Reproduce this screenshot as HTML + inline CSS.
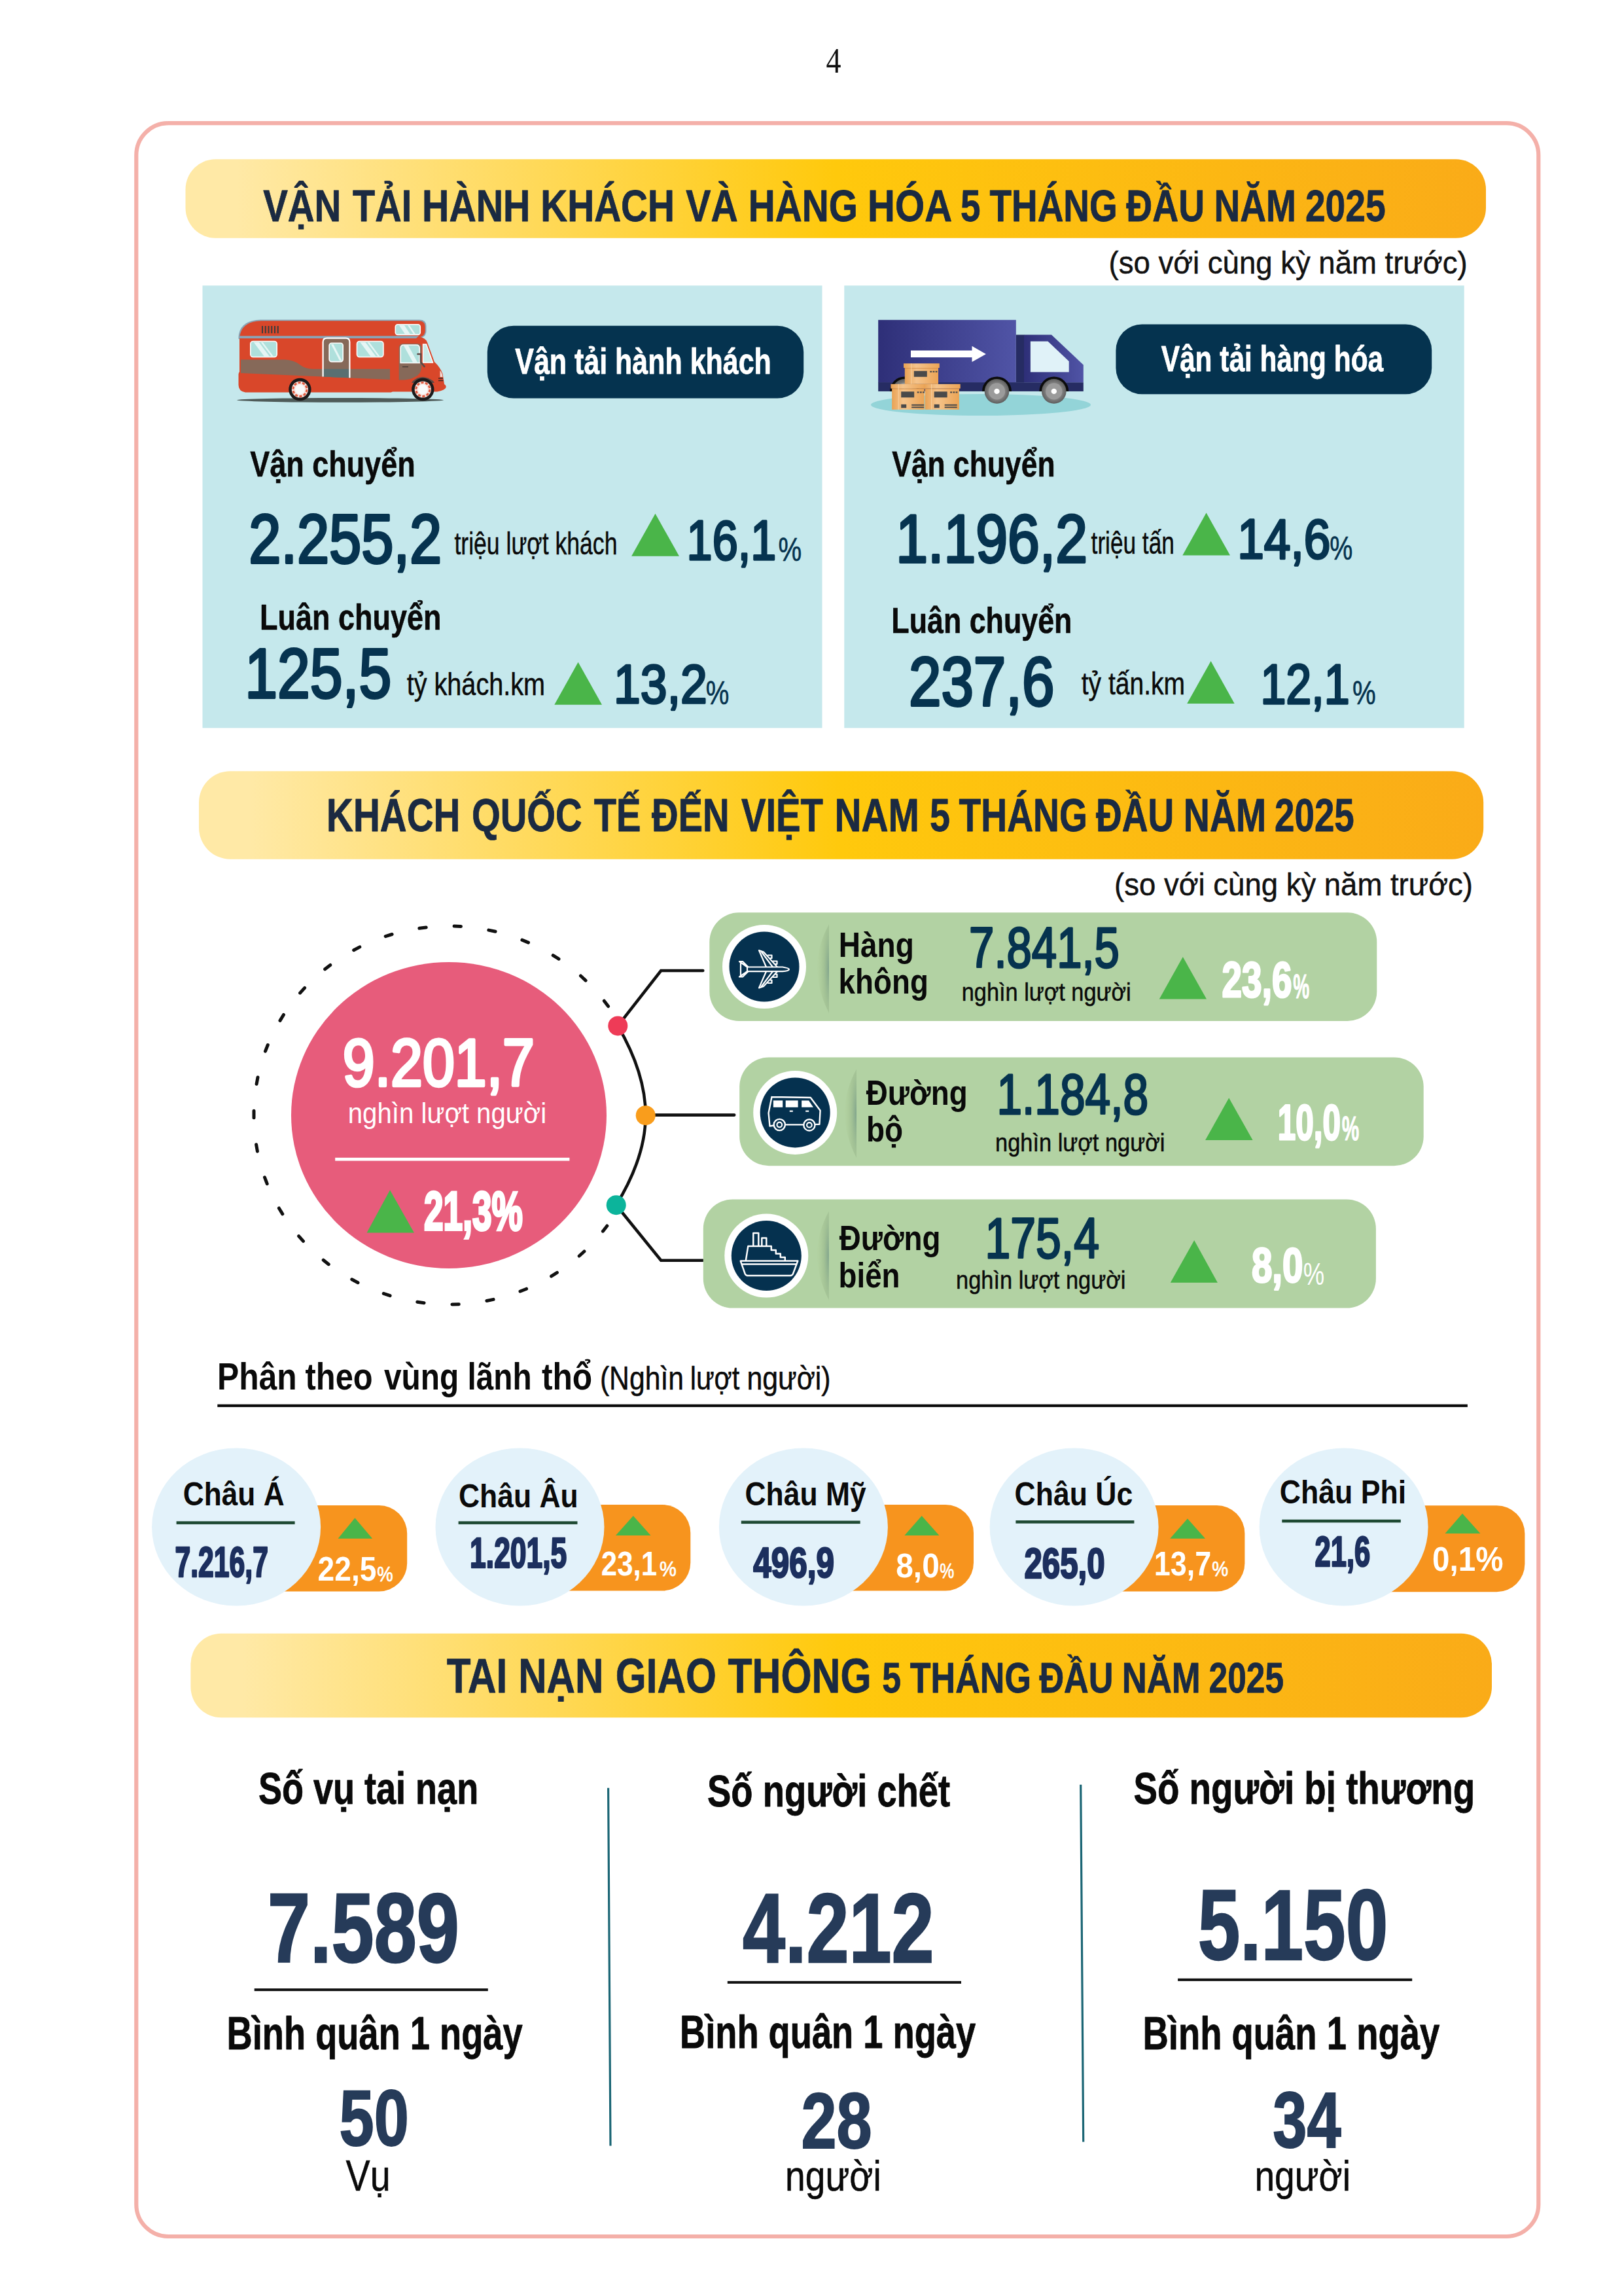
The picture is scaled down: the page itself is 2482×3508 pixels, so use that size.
<!DOCTYPE html>
<html lang="vi"><head><meta charset="utf-8"><title>Infographic 5 tháng đầu năm 2025</title>
<style>html,body{margin:0;padding:0;background:#fff}svg{display:block}</style></head>
<body>
<svg width="2482" height="3508" viewBox="0 0 2482 3508" font-family='"Liberation Sans", sans-serif'>
<defs>
<linearGradient id="gb" x1="0" y1="0" x2="1" y2="0">
<stop offset="0" stop-color="#ffe9a6"/><stop offset="0.04" stop-color="#ffe9a6"/><stop offset="0.50" stop-color="#ffc90c"/><stop offset="1" stop-color="#faab18"/>
</linearGradient>
<linearGradient id="gt" x1="0" y1="0" x2="1" y2="0"><stop offset="0" stop-color="#2e2f78"/><stop offset="1" stop-color="#5054a6"/></linearGradient>
<linearGradient id="gbox" x1="0" y1="0" x2="1" y2="0"><stop offset="0" stop-color="#e9a254"/><stop offset="0.35" stop-color="#f5c48c"/><stop offset="1" stop-color="#eca455"/></linearGradient>
<radialGradient id="gsep" cx="1" cy="0.5" r="0.95"><stop offset="0" stop-color="#7b9f8a" stop-opacity="0.9"/><stop offset="0.45" stop-color="#98b78c" stop-opacity="0.6"/><stop offset="1" stop-color="#aac78f" stop-opacity="0.1"/></radialGradient>
<radialGradient id="gwh"><stop offset="0.45" stop-color="#9a9a9a"/><stop offset="0.7" stop-color="#7d7d7d"/><stop offset="1" stop-color="#5e5e5e"/></radialGradient>
</defs>
<rect width="2482" height="3508" fill="#fff"/>
<text x="1262.4" y="111.4" font-size="55" fill="#111" textLength="23.0" lengthAdjust="spacingAndGlyphs" font-family='"Liberation Serif", serif'>4</text>
<rect x="208.3" y="188.2" width="2143" height="3228.8" rx="49" ry="49" fill="none" stroke="#f4b0a9" stroke-width="6.2"/>
<rect x="283.5" y="243.3" width="1987.5" height="120.4" rx="46" fill="url(#gb)"/>
<text y="337.7" font-size="69.3" fill="#1b2a41" font-weight="bold" stroke="#1b2a41" stroke-width="0.8" stroke-linejoin="round"><tspan x="402.2" textLength="119.2" lengthAdjust="spacingAndGlyphs">VẬN</tspan> <tspan x="539.0" textLength="90.2" lengthAdjust="spacingAndGlyphs">TẢI</tspan> <tspan x="645.1" textLength="165.3" lengthAdjust="spacingAndGlyphs">HÀNH</tspan> <tspan x="826.3" textLength="204.7" lengthAdjust="spacingAndGlyphs">KHÁCH</tspan> <tspan x="1048.3" textLength="79.4" lengthAdjust="spacingAndGlyphs">VÀ</tspan> <tspan x="1143.7" textLength="167.1" lengthAdjust="spacingAndGlyphs">HÀNG</tspan> <tspan x="1326.1" textLength="126.8" lengthAdjust="spacingAndGlyphs">HÓA</tspan> <tspan x="1468.1" textLength="30.5" lengthAdjust="spacingAndGlyphs">5</tspan> <tspan x="1512.5" textLength="195.1" lengthAdjust="spacingAndGlyphs">THÁNG</tspan> <tspan x="1721.3" textLength="119.8" lengthAdjust="spacingAndGlyphs">ĐẦU</tspan> <tspan x="1855.6" textLength="125.4" lengthAdjust="spacingAndGlyphs">NĂM</tspan> <tspan x="1994.9" textLength="122.8" lengthAdjust="spacingAndGlyphs">2025</tspan></text>
<text x="1694.6" y="417.7" font-size="48" fill="#111" textLength="548.0" lengthAdjust="spacingAndGlyphs" stroke="#111" stroke-width="0.5" stroke-linejoin="round">(so với cùng kỳ năm trước)</text>
<rect x="309.5" y="436.3" width="947" height="676" fill="#c5e8ec"/>
<rect x="1290.3" y="436.3" width="947.4" height="676" fill="#c5e8ec"/>
<rect x="744.8" y="497.8" width="483.4" height="110.8" rx="40" fill="#05334f"/>
<text x="787.3" y="570.7" font-size="55.5" fill="#fff" font-weight="bold" textLength="391.5" lengthAdjust="spacingAndGlyphs" stroke="#fff" stroke-width="0.8" stroke-linejoin="round">Vận tải hành khách</text>
<rect x="1705.4" y="495.4" width="482.8" height="106.8" rx="40" fill="#05334f"/>
<text x="1774.7" y="566.5" font-size="55.5" fill="#fff" font-weight="bold" textLength="339.5" lengthAdjust="spacingAndGlyphs" stroke="#fff" stroke-width="0.8" stroke-linejoin="round">Vận tải hàng hóa</text>
<text x="382.3" y="727.9" font-size="56.4" fill="#0a0a0a" font-weight="bold" textLength="252.5" lengthAdjust="spacingAndGlyphs" stroke="#0a0a0a" stroke-width="0.6" stroke-linejoin="round">Vận chuyển</text>
<text x="380.3" y="859.8" font-size="105.5" fill="#06334f" textLength="294.8" lengthAdjust="spacingAndGlyphs" stroke="#06334f" stroke-width="4" stroke-linejoin="round">2.255,2</text>
<text x="694.4" y="846.8" font-size="48.5" fill="#0a0a0a" textLength="249.1" lengthAdjust="spacingAndGlyphs" stroke="#0a0a0a" stroke-width="0.5" stroke-linejoin="round">triệu lượt khách</text>
<polygon points="1001.5,784.8 965.1,849.8 1038.0,849.8" fill="#4ab549"/>
<text x="1049.6" y="855.4" font-size="84.8" fill="#06334f" textLength="136.6" lengthAdjust="spacingAndGlyphs" stroke="#06334f" stroke-width="3.4" stroke-linejoin="round">16,1</text>
<text x="1189.4" y="856.5" font-size="50" fill="#06334f" textLength="35.7" lengthAdjust="spacingAndGlyphs" stroke="#06334f" stroke-width="0.6" stroke-linejoin="round">%</text>
<text x="397.1" y="961.6" font-size="56.4" fill="#0a0a0a" font-weight="bold" textLength="277.5" lengthAdjust="spacingAndGlyphs" stroke="#0a0a0a" stroke-width="0.6" stroke-linejoin="round">Luân chuyển</text>
<text x="374.2" y="1065.5" font-size="107.5" fill="#06334f" textLength="224.0" lengthAdjust="spacingAndGlyphs" stroke="#06334f" stroke-width="4" stroke-linejoin="round">125,5</text>
<text x="621.7" y="1061.6" font-size="48.5" fill="#0a0a0a" textLength="211.4" lengthAdjust="spacingAndGlyphs" stroke="#0a0a0a" stroke-width="0.5" stroke-linejoin="round">tỷ khách.km</text>
<polygon points="883.6,1011.7 847.3,1076.7 920.0,1076.7" fill="#4ab549"/>
<text x="938.1" y="1074.4" font-size="84.2" fill="#06334f" textLength="142.7" lengthAdjust="spacingAndGlyphs" stroke="#06334f" stroke-width="3.4" stroke-linejoin="round">13,2</text>
<text x="1078.8" y="1075.6" font-size="50" fill="#06334f" textLength="35.6" lengthAdjust="spacingAndGlyphs" stroke="#06334f" stroke-width="0.6" stroke-linejoin="round">%</text>
<text x="1363.2" y="727.5" font-size="56.4" fill="#0a0a0a" font-weight="bold" textLength="249.4" lengthAdjust="spacingAndGlyphs" stroke="#0a0a0a" stroke-width="0.6" stroke-linejoin="round">Vận chuyển</text>
<text x="1369.2" y="859.0" font-size="104.6" fill="#06334f" textLength="292.8" lengthAdjust="spacingAndGlyphs" stroke="#06334f" stroke-width="4" stroke-linejoin="round">1.196,2</text>
<text x="1667.6" y="845.5" font-size="48.5" fill="#0a0a0a" textLength="127.2" lengthAdjust="spacingAndGlyphs" stroke="#0a0a0a" stroke-width="0.5" stroke-linejoin="round">triệu tấn</text>
<polygon points="1843.6,783.4 1807.3,848.4 1880.0,848.4" fill="#4ab549"/>
<text x="1891.2" y="853.4" font-size="84.6" fill="#06334f" textLength="142.3" lengthAdjust="spacingAndGlyphs" stroke="#06334f" stroke-width="3.4" stroke-linejoin="round">14,6</text>
<text x="2032.2" y="854.5" font-size="50" fill="#06334f" textLength="35.1" lengthAdjust="spacingAndGlyphs" stroke="#06334f" stroke-width="0.6" stroke-linejoin="round">%</text>
<text x="1362.3" y="966.7" font-size="56.4" fill="#0a0a0a" font-weight="bold" textLength="276.1" lengthAdjust="spacingAndGlyphs" stroke="#0a0a0a" stroke-width="0.6" stroke-linejoin="round">Luân chuyển</text>
<text x="1389.0" y="1077.7" font-size="106.5" fill="#06334f" textLength="222.4" lengthAdjust="spacingAndGlyphs" stroke="#06334f" stroke-width="4" stroke-linejoin="round">237,6</text>
<text x="1652.7" y="1060.5" font-size="48.5" fill="#0a0a0a" textLength="158.4" lengthAdjust="spacingAndGlyphs" stroke="#0a0a0a" stroke-width="0.5" stroke-linejoin="round">tỷ tấn.km</text>
<polygon points="1850.6,1010.1 1814.2,1075.1 1886.7,1075.1" fill="#4ab549"/>
<text x="1926.4" y="1075.0" font-size="84.5" fill="#06334f" textLength="136.3" lengthAdjust="spacingAndGlyphs" stroke="#06334f" stroke-width="3.4" stroke-linejoin="round">12,1</text>
<text x="2066.9" y="1076.0" font-size="50" fill="#06334f" textLength="35.7" lengthAdjust="spacingAndGlyphs" stroke="#06334f" stroke-width="0.6" stroke-linejoin="round">%</text>
<g id="bus">
<ellipse cx="520" cy="611.3" rx="158" ry="3.4" fill="#4f5b59"/>
<path d="M364.5,518 V515 Q366,489.5 398,488.5 H641 Q651.5,488.5 651.5,498 V506 Q651,516 640,517 H600 L598,518 Z" fill="#8ba3b4"/>
<path d="M366,517 Q368,491 399,490.3 H640 Q649.7,490.3 649.7,499 V506 Q649,515 639,515.5 H600 L597,517 Z" fill="#d9472a"/>
<path d="M366,516 H600 Q604,514.5 610,514.5 H640 Q650,515.5 653,523 L664,553 Q672,560 676.5,571 L679,587 Q682.5,589 681.5,592 Q680,596 668,598.5 H600 L597.5,599.5 H375 Q364.5,598 364.5,588 V572 Q364.5,570 366,568 Z" fill="#d9472a"/>
<path d="M366,513.2 H640 L636,517 H366 Z" fill="#8ba3b4"/>
<path d="M368,549.5 H436 Q449,550 458,557 Q466,563.5 478,563.7 H596 V580 L368,570 Z" fill="#866959"/>
<path d="M493.6,575.6 V522.5 Q493.6,516.6 499.5,516.6 H528.5 Q534.4,516.6 534.4,522.5 V577.3 Z" fill="#866959"/>
<path d="M493.6,563.7 H534.4 V577.3 L493.6,575.6 Z" fill="#5a6f71"/>
<path d="M493.6,575.6 V522.5 Q493.6,516.6 499.5,516.6 H528.5 Q534.4,516.6 534.4,522.5 V577.3" fill="none" stroke="#fff" stroke-width="2.2"/>
<rect x="503.2" y="524.3" width="21" height="28.3" rx="3.5" fill="#afe0dc" stroke="#fff" stroke-width="1.6"/>
<path d="M506,526 L519,551 H522.5 L509.5,526Z" fill="#e6f6f5"/>
<rect x="382.8" y="521.5" width="40.4" height="24" rx="4" fill="#afe0dc" stroke="#fff" stroke-width="1.6"/>
<path d="M387.8,523 L403.8,544.5 H411.8 L395.8,523 Z M398.8,523 L414.8,544.5 H417.8 L401.8,523Z" fill="#e6f6f5"/>
<rect x="545.5" y="521.5" width="40.4" height="24" rx="4" fill="#afe0dc" stroke="#fff" stroke-width="1.6"/>
<path d="M550.5,523 L566.5,544.5 H574.5 L558.5,523 Z M561.5,523 L577.5,544.5 H580.5 L564.5,523Z" fill="#e6f6f5"/>
<rect x="604.3" y="495.8" width="38" height="15.6" rx="3.5" fill="#afe0dc" stroke="#fff" stroke-width="1.6"/>
<path d="M610,497 L619,510.5 H627 L618,497 Z M623,497 L632,510.5 H635 L626,497Z" fill="#e6f6f5"/>
<path d="M609.7,531 Q610,525 616,525 H638 Q644.3,525 644.3,531 V560 Q644,572 634,576 Q628,579.5 618,580.5 H609.7 Z" fill="#866959"/>
<path d="M612.2,532 Q612.2,527 617,527 H636 Q641.2,527 641.2,532 V554.5 H612.2 Z" fill="#afe0dc" stroke="#fff" stroke-width="1.6"/>
<path d="M617,528 L631,553.5 H638 L624,528Z" fill="#e6f6f5"/>
<path d="M646.5,526 H651.5 L661.5,554 H646.5 Z" fill="#c9ece9" stroke="#fff" stroke-width="1.4"/>
<path d="M638.5,541 H643 V553 L648.5,560" fill="none" stroke="#5b4a45" stroke-width="2.6" stroke-linecap="round"/>
<path d="M615,560.5 H624" stroke="#3d3331" stroke-width="1.2"/>
<rect x="400.00" y="498" width="2" height="11.2" fill="#3c3c3c"/>
<rect x="404.75" y="498" width="2" height="11.2" fill="#3c3c3c"/>
<rect x="409.50" y="498" width="2" height="11.2" fill="#3c3c3c"/>
<rect x="414.25" y="498" width="2" height="11.2" fill="#3c3c3c"/>
<rect x="419.00" y="498" width="2" height="11.2" fill="#3c3c3c"/>
<rect x="423.75" y="498" width="2" height="11.2" fill="#3c3c3c"/>
<path d="M672.5,566 Q676,570 676.5,576 H672.5 Z" fill="#f3d9d2"/>
<path d="M670,578 H677 M670,581.5 H677.5" stroke="#3c2a27" stroke-width="1.5"/>
<path d="M631,582 Q645,570 662,582 L664,585 H629 Z" fill="#5b4a45"/>
<circle cx="458.4" cy="595" r="17.2" fill="#1c1a1a"/>
<circle cx="458.4" cy="595" r="12.6" fill="#f6e4e0"/>
<circle cx="458.4" cy="595" r="10.5" fill="none" stroke="#e05a3f" stroke-width="3" stroke-dasharray="4.2 2.4"/>
<circle cx="458.4" cy="595" r="7.4" fill="#fafafa"/>
<circle cx="646.3" cy="595" r="17.2" fill="#1c1a1a"/>
<circle cx="646.3" cy="595" r="12.6" fill="#f6e4e0"/>
<circle cx="646.3" cy="595" r="10.5" fill="none" stroke="#e05a3f" stroke-width="3" stroke-dasharray="4.2 2.4"/>
<circle cx="646.3" cy="595" r="7.4" fill="#fafafa"/>
</g>
<g id="truck">
<ellipse cx="1499" cy="618.5" rx="168" ry="16.6" fill="#93d4d8"/>
<rect x="1342.2" y="488.8" width="210.6" height="96" fill="url(#gt)"/>
<rect x="1342.2" y="584.2" width="313.6" height="13.7" fill="#262c63"/>
<rect x="1552.8" y="511.5" width="12.4" height="73" fill="#262c63"/>
<path d="M1565,511.5 H1607 L1655.8,557.6 V584.2 H1565 Z" fill="url(#gt)"/>
<path d="M1574.9,521.4 H1601.5 L1633.7,552 V568.6 H1574.9 Z" fill="#e0f2f8"/>
<path d="M1392,535.4 H1485.5 V528.7 L1506.9,540.9 L1485.5,553.1 V546 H1392 Z" fill="#fff"/>
<path d="M1360.0,597.9 A22.5,22.5 0 0 1 1405.0,597.9 Z" fill="#0c0c0c"/>
<circle cx="1382.5" cy="597.9" r="18.8" fill="url(#gwh)"/>
<circle cx="1382.5" cy="597.9" r="12.6" fill="#9b9b9b"/>
<circle cx="1382.5" cy="597.9" r="4.2" fill="#fff"/>
<path d="M1501.0,597.9 A22.5,22.5 0 0 1 1546.0,597.9 Z" fill="#0c0c0c"/>
<circle cx="1523.5" cy="597.9" r="18.8" fill="url(#gwh)"/>
<circle cx="1523.5" cy="597.9" r="12.6" fill="#9b9b9b"/>
<circle cx="1523.5" cy="597.9" r="4.2" fill="#fff"/>
<path d="M1588.3,597.9 A22.5,22.5 0 0 1 1633.3,597.9 Z" fill="#0c0c0c"/>
<circle cx="1610.8" cy="597.9" r="18.8" fill="url(#gwh)"/>
<circle cx="1610.8" cy="597.9" r="12.6" fill="#9b9b9b"/>
<circle cx="1610.8" cy="597.9" r="4.2" fill="#fff"/>
<rect x="1381.0" y="555.3" width="54.8" height="6.8" fill="url(#gbox)"/>
<rect x="1382.8" y="562.1" width="51.2" height="24.7" fill="url(#gbox)"/>
<rect x="1382.8" y="562.1" width="51.2" height="1.2" fill="#d98f45" opacity="0.7"/>
<rect x="1392.3" y="555.3" width="1" height="31.5" fill="#fbd9ad" opacity="0.8"/>
<rect x="1396.8" y="566.8" width="20" height="9" fill="#4a4a4a"/>
<rect x="1421.3" y="566.8" width="2.8" height="2.2" fill="#4a4a4a"/>
<rect x="1425.5" y="566.8" width="2.8" height="2.2" fill="#4a4a4a"/>
<rect x="1429.7" y="566.8" width="2.8" height="2.2" fill="#4a4a4a"/>
<rect x="1361.4" y="586.8" width="53.1" height="6.8" fill="url(#gbox)"/>
<rect x="1363.2" y="593.6" width="49.5" height="32.2" fill="url(#gbox)"/>
<rect x="1363.2" y="593.6" width="49.5" height="1.2" fill="#d98f45" opacity="0.7"/>
<rect x="1372.7" y="586.8" width="1" height="39.0" fill="#fbd9ad" opacity="0.8"/>
<rect x="1377.2" y="598.3" width="20" height="9" fill="#4a4a4a"/>
<rect x="1401.7" y="598.3" width="2.8" height="2.2" fill="#4a4a4a"/>
<rect x="1405.9" y="598.3" width="2.8" height="2.2" fill="#4a4a4a"/>
<rect x="1410.1" y="598.3" width="2.8" height="2.2" fill="#4a4a4a"/>
<rect x="1377.2" y="617.8" width="8" height="5.5" fill="#4a4a4a"/>
<rect x="1393.2" y="617.8" width="19" height="2" fill="#4a4a4a"/>
<rect x="1393.2" y="621.3" width="19" height="2" fill="#4a4a4a"/>
<rect x="1411.9" y="586.8" width="55.8" height="6.8" fill="url(#gbox)"/>
<rect x="1413.7" y="593.6" width="52.2" height="32.2" fill="url(#gbox)"/>
<rect x="1413.7" y="593.6" width="52.2" height="1.2" fill="#d98f45" opacity="0.7"/>
<rect x="1423.2" y="586.8" width="1" height="39.0" fill="#fbd9ad" opacity="0.8"/>
<rect x="1427.7" y="598.3" width="20" height="9" fill="#4a4a4a"/>
<rect x="1452.2" y="598.3" width="2.8" height="2.2" fill="#4a4a4a"/>
<rect x="1456.4" y="598.3" width="2.8" height="2.2" fill="#4a4a4a"/>
<rect x="1460.6" y="598.3" width="2.8" height="2.2" fill="#4a4a4a"/>
<rect x="1427.7" y="617.8" width="8" height="5.5" fill="#4a4a4a"/>
<rect x="1443.7" y="617.8" width="19" height="2" fill="#4a4a4a"/>
<rect x="1443.7" y="621.3" width="19" height="2" fill="#4a4a4a"/>
</g>
<rect x="304" y="1178.2" width="1963.2" height="134.5" rx="48" fill="url(#gb)"/>
<text y="1269.6" font-size="69.5" fill="#1b2a41" font-weight="bold" stroke="#1b2a41" stroke-width="0.8" stroke-linejoin="round"><tspan x="499.0" textLength="204.4" lengthAdjust="spacingAndGlyphs">KHÁCH</tspan> <tspan x="720.9" textLength="168.7" lengthAdjust="spacingAndGlyphs">QUỐC</tspan> <tspan x="907.7" textLength="71.8" lengthAdjust="spacingAndGlyphs">TẾ</tspan> <tspan x="995.9" textLength="118.9" lengthAdjust="spacingAndGlyphs">ĐẾN</tspan> <tspan x="1132.9" textLength="125.1" lengthAdjust="spacingAndGlyphs">VIỆT</tspan> <tspan x="1275.4" textLength="129.5" lengthAdjust="spacingAndGlyphs">NAM</tspan> <tspan x="1421.0" textLength="31.0" lengthAdjust="spacingAndGlyphs">5</tspan> <tspan x="1465.6" textLength="196.3" lengthAdjust="spacingAndGlyphs">THÁNG</tspan> <tspan x="1675.0" textLength="119.3" lengthAdjust="spacingAndGlyphs">ĐẦU</tspan> <tspan x="1808.8" textLength="126.5" lengthAdjust="spacingAndGlyphs">NĂM</tspan> <tspan x="1948.1" textLength="121.7" lengthAdjust="spacingAndGlyphs">2025</tspan></text>
<text x="1703.1" y="1367.6" font-size="48" fill="#111" textLength="547.9" lengthAdjust="spacingAndGlyphs" stroke="#111" stroke-width="0.5" stroke-linejoin="round">(so với cùng kỳ năm trước)</text>
<ellipse cx="686" cy="1704" rx="241" ry="234" fill="#e75c7b"/>
<path d="M929.6,1537.5 L923.3,1529.2 M895.1,1498.1 L887.5,1491.0 M854.0,1465.2 L845.2,1459.7 M807.5,1440.1 L797.9,1436.1 M757.1,1423.3 L746.9,1421.1 M704.5,1415.5 L694.1,1415.1 M651.2,1416.9 L640.9,1418.3 M599.1,1427.5 L589.2,1430.6 M549.8,1446.9 L540.6,1451.7 M504.8,1474.5 L496.6,1480.8 M465.6,1509.4 L458.6,1517.1 M433.4,1550.5 L428.0,1559.4 M409.3,1596.5 L405.5,1606.2 M394.0,1646.0 L392.1,1656.2 M388.0,1697.3 L388.0,1707.7 M391.6,1748.8 L393.4,1759.1 M404.5,1798.9 L408.2,1808.7 M426.4,1846.0 L431.8,1854.9 M456.6,1888.6 L463.5,1896.3 M494.2,1925.2 L502.3,1931.7 M537.8,1954.8 L547.0,1959.7 M586.3,1976.4 L596.1,1979.6 M637.8,1989.2 L648.1,1990.7 M690.9,1993.0 L701.3,1992.7 M743.9,1987.5 L754.1,1985.4 M795.0,1973.0 L804.6,1969.2 M842.6,1949.9 L851.4,1944.4 M885.2,1919.0 L892.9,1912.0 M921.4,1881.2 L927.8,1873.0" fill="none" stroke="#111" stroke-width="5" stroke-linecap="round"/>
<path d="M944.3,1567.4 Q986.7,1640 986.7,1704 Q986.7,1768 941.7,1841.2" fill="none" stroke="#111" stroke-width="4.6"/>
<path d="M944.3,1567.4 L1010.2,1483 H1074.3 M986.7,1703.6 H1122.2 M941.7,1841.2 L1010.2,1925.8 H1074.3" fill="none" stroke="#111" stroke-width="4.6" stroke-linejoin="miter" stroke-linecap="round"/>
<circle cx="944.3" cy="1567.4" r="15" fill="#ee3b57"/>
<circle cx="986.7" cy="1704.2" r="15" fill="#f99d1c"/>
<circle cx="941.7" cy="1841.2" r="15" fill="#0cb49b"/>
<text x="523.8" y="1658.8" font-size="102.6" fill="#fff" textLength="293.1" lengthAdjust="spacingAndGlyphs" stroke="#fff" stroke-width="4.6" stroke-linejoin="round">9.201,7</text>
<text x="531.7" y="1715.8" font-size="45" fill="#fff" textLength="303.4" lengthAdjust="spacingAndGlyphs">nghìn lượt người</text>
<rect x="512.2" y="1768.8" width="358.2" height="4.8" fill="#fff"/>
<polygon points="596.0,1818.3 560.6,1883.4 632.9,1883.4" fill="#4ab549"/>
<text x="648.0" y="1879.1" font-size="84.1" fill="#fff" font-weight="bold" textLength="150.8" lengthAdjust="spacingAndGlyphs" stroke="#fff" stroke-width="4" stroke-linejoin="miter">21,3%</text>
<rect x="1084.3" y="1394.2" width="1020" height="165.8" rx="45" fill="#b2d2a3"/>
<path d="M1267,1412.2 V1548.0 Q1231,1477.1000000000001 1267,1412.2 Z" fill="url(#gsep)"/>
<circle cx="1168" cy="1477" r="64" fill="#fff"/>
<circle cx="1168" cy="1477" r="53.5" fill="#05314f"/>
<rect x="1130.2" y="1615.4" width="1045.5" height="165.8" rx="45" fill="#b2d2a3"/>
<path d="M1309,1633.4 V1769.2 Q1273,1698.3000000000002 1309,1633.4 Z" fill="url(#gsep)"/>
<circle cx="1215.2" cy="1699.9" r="64" fill="#fff"/>
<circle cx="1215.2" cy="1699.9" r="53.5" fill="#05314f"/>
<rect x="1074.8" y="1832.4" width="1028.1" height="166.2" rx="45" fill="#b2d2a3"/>
<path d="M1266.9,1850.4 V1986.6000000000001 Q1230.9,1915.5 1266.9,1850.4 Z" fill="url(#gsep)"/>
<circle cx="1171.3" cy="1918.6" r="64" fill="#fff"/>
<circle cx="1171.3" cy="1918.6" r="53.5" fill="#05314f"/>
<g transform="translate(1168,1477)" fill="none" stroke="#fff" stroke-width="2.2" stroke-linejoin="round">
<path d="M-26,0.5 H28 Q37.5,2 38,4 Q37.5,6.5 28,7.2 H-26 Z"/>
<path d="M-26,0.5 L-38,-8 H-33 L-24.5,0.5 M-26,7.2 L-38,15.5 H-33 L-24.5,7.2 M-36,-8 V15.5"/>
<path d="M3,0.5 L-8,-25 L-1,-22.5 L20,0.5 M-4.5,-23 L13,0.5"/>
<path d="M3,7.2 L-8,32.5 L-1,30 L20,7.2 M-4.5,30.5 L13,7.2"/>
<path d="M5,-17.5 H11.5 V-13 H9 M13,-8.5 H19.5 V-4 H17"/>
<path d="M5,25 H11.5 V20.5 H9 M13,16 H19.5 V11.5 H17"/>
</g>
<g transform="translate(1215.2,1699.9)" fill="none" stroke="#fff" stroke-width="2.4" stroke-linejoin="round" stroke-linecap="round">
<path d="M-35.7,-23.9 L23.6,-22.9 L38.4,-3.2 L37.2,18 H31.5 M12,18.5 H-14.2 M-33.5,19.8 L-38.7,20.6 L-40.6,0.7 L-35.7,-23.9"/>
<circle cx="-23.9" cy="18.6" r="8.6"/><circle cx="-23.9" cy="18.6" r="3.8" stroke-width="2.2"/>
<circle cx="21.7" cy="19" r="8.6"/><circle cx="21.7" cy="19" r="3.8" stroke-width="2.2"/>
<g fill="#fff" stroke="none"><rect x="-33.3" y="-18.5" width="14.3" height="10.4"/><rect x="-14.5" y="-18.5" width="18.9" height="10.4"/><path d="M9.9,-18.5 H20.9 L27.8,-8.1 H9.9Z"/><rect x="-8.4" y="-3.3" width="5" height="2.2"/><rect x="16" y="-3.3" width="5" height="2.2"/></g>
</g>
<g transform="translate(1171.3,1918.6)" fill="none" stroke="#fff" stroke-width="2.5" stroke-linejoin="round">
<path d="M-39.5,8 H48 L40.5,28 Q39,30.5 36,30.5 H-28 Q-31,30.5 -32.5,28 Z M-38,13 H46.5"/>
<path d="M-31.5,7.5 L-28,-14.5 H7.5 V-8.5 H14.5 V-3 H21.5 V2.5 H28.5 V7.5"/>
<path d="M-20,-14.5 V-34.5 H-12 V-14.5 M-7,-14.5 V-27 H0 V-14.5"/>
</g>
<text x="1281.7" y="1461.9" font-size="53" fill="#0a0a0a" font-weight="bold" textLength="115.1" lengthAdjust="spacingAndGlyphs">Hàng</text>
<text x="1281.6" y="1517.7" font-size="53" fill="#0a0a0a" font-weight="bold" textLength="137.3" lengthAdjust="spacingAndGlyphs">không</text>
<text x="1481.1" y="1478.3" font-size="87.1" fill="#06334f" textLength="229.8" lengthAdjust="spacingAndGlyphs" stroke="#06334f" stroke-width="3" stroke-linejoin="round">7.841,5</text>
<text x="1469.7" y="1529.1" font-size="38" fill="#0a0a0a" textLength="259.0" lengthAdjust="spacingAndGlyphs" stroke="#0a0a0a" stroke-width="0.5" stroke-linejoin="round">nghìn lượt người</text>
<polygon points="1807.8,1462.0 1771.7,1526.5 1844.0,1526.5" fill="#4ab549"/>
<text x="1867.6" y="1523.3" font-size="75.7" fill="#fff" font-weight="bold" textLength="106.8" lengthAdjust="spacingAndGlyphs" stroke="#fff" stroke-width="3" stroke-linejoin="round">23,6</text>
<text x="1976.3" y="1524.6" font-size="51" fill="#fff" font-weight="bold" textLength="25.0" lengthAdjust="spacingAndGlyphs" stroke="#fff" stroke-width="1" stroke-linejoin="round">%</text>
<text x="1323.7" y="1687.6" font-size="53" fill="#0a0a0a" font-weight="bold" textLength="155.0" lengthAdjust="spacingAndGlyphs">Đường</text>
<text x="1324.0" y="1743.5" font-size="53" fill="#0a0a0a" font-weight="bold" textLength="56.1" lengthAdjust="spacingAndGlyphs">bộ</text>
<text x="1523.5" y="1702.3" font-size="86.8" fill="#06334f" textLength="231.5" lengthAdjust="spacingAndGlyphs" stroke="#06334f" stroke-width="3" stroke-linejoin="round">1.184,8</text>
<text x="1521.1" y="1759.0" font-size="38" fill="#0a0a0a" textLength="259.3" lengthAdjust="spacingAndGlyphs" stroke="#0a0a0a" stroke-width="0.5" stroke-linejoin="round">nghìn lượt người</text>
<polygon points="1878.2,1677.4 1842.1,1741.9 1914.6,1741.9" fill="#4ab549"/>
<text x="1952.8" y="1740.8" font-size="75.8" fill="#fff" font-weight="bold" textLength="96.3" lengthAdjust="spacingAndGlyphs" stroke="#fff" stroke-width="3" stroke-linejoin="round">10,0</text>
<text x="2050.8" y="1742.0" font-size="51" fill="#fff" font-weight="bold" textLength="26.5" lengthAdjust="spacingAndGlyphs" stroke="#fff" stroke-width="1" stroke-linejoin="round">%</text>
<text x="1282.8" y="1910.0" font-size="53" fill="#0a0a0a" font-weight="bold" textLength="154.7" lengthAdjust="spacingAndGlyphs">Đường</text>
<text x="1281.6" y="1966.6" font-size="53" fill="#0a0a0a" font-weight="bold" textLength="93.9" lengthAdjust="spacingAndGlyphs">biển</text>
<text x="1505.4" y="1921.5" font-size="86.7" fill="#06334f" textLength="174.6" lengthAdjust="spacingAndGlyphs" stroke="#06334f" stroke-width="3" stroke-linejoin="round">175,4</text>
<text x="1461.1" y="1969.0" font-size="38" fill="#0a0a0a" textLength="259.3" lengthAdjust="spacingAndGlyphs" stroke="#0a0a0a" stroke-width="0.5" stroke-linejoin="round">nghìn lượt người</text>
<polygon points="1825.2,1894.9 1788.8,1959.8 1860.9,1959.8" fill="#4ab549"/>
<text x="1912.9" y="1959.2" font-size="74.6" fill="#fff" font-weight="bold" textLength="78.6" lengthAdjust="spacingAndGlyphs" stroke="#fff" stroke-width="3" stroke-linejoin="round">8,0</text>
<text x="1991.7" y="1962.6" font-size="49" fill="#fff" textLength="32.4" lengthAdjust="spacingAndGlyphs">%</text>
<text y="2122.5" font-size="58" fill="#0a0a0a" font-weight="bold"><tspan x="332.0" textLength="121.8" lengthAdjust="spacingAndGlyphs">Phân</tspan> <tspan x="466.6" textLength="103.1" lengthAdjust="spacingAndGlyphs">theo</tspan> <tspan x="587.0" textLength="114.3" lengthAdjust="spacingAndGlyphs">vùng</tspan> <tspan x="714.5" textLength="98.2" lengthAdjust="spacingAndGlyphs">lãnh</tspan> <tspan x="827.9" textLength="77.3" lengthAdjust="spacingAndGlyphs">thổ</tspan></text>
<text y="2122.5" font-size="50.5" fill="#0a0a0a" stroke="#0a0a0a" stroke-width="0.5" stroke-linejoin="round"><tspan x="916.9" textLength="128.1" lengthAdjust="spacingAndGlyphs">(Nghìn</tspan> <tspan x="1054.7" textLength="75.6" lengthAdjust="spacingAndGlyphs">lượt</tspan> <tspan x="1141.5" textLength="128.1" lengthAdjust="spacingAndGlyphs">người)</tspan></text>
<rect x="332.3" y="2145.6" width="1910.6" height="4.2" fill="#0a0a0a"/>
<rect x="361.1" y="2300" width="261.1" height="131.4" rx="43" fill="#f7941e"/>
<ellipse cx="361.1" cy="2333" rx="129" ry="120.5" fill="#e3f2fa"/>
<text x="279.8" y="2300.0" font-size="50" fill="#0a0a0a" font-weight="bold" textLength="154.8" lengthAdjust="spacingAndGlyphs">Châu Á</text>
<rect x="269.6" y="2324.3" width="181.0" height="4.6" fill="#1f4a33"/>
<text x="267.4" y="2408.8" font-size="63.9" fill="#1c2f5e" font-weight="bold" textLength="142.6" lengthAdjust="spacingAndGlyphs" stroke="#1c2f5e" stroke-width="2.6" stroke-linejoin="round">7.216,7</text>
<polygon points="542.4,2319.3 516.6,2350.8 569.1,2350.8" fill="#4ab549"/>
<text x="485.6" y="2415.0" font-size="52" fill="#fff" font-weight="bold" textLength="89.8" lengthAdjust="spacingAndGlyphs">22,5</text>
<text x="576.3" y="2415.8" font-size="32" fill="#fff" textLength="24.4" lengthAdjust="spacingAndGlyphs" stroke="#fff" stroke-width="0.8" stroke-linejoin="round">%</text>
<rect x="794.5" y="2299" width="260.8" height="131.5" rx="43" fill="#f7941e"/>
<ellipse cx="794.5" cy="2333" rx="129" ry="120.5" fill="#e3f2fa"/>
<text x="701.0" y="2303.0" font-size="50" fill="#0a0a0a" font-weight="bold" textLength="182.7" lengthAdjust="spacingAndGlyphs">Châu Âu</text>
<rect x="700.6" y="2324.3" width="181.9" height="4.6" fill="#1f4a33"/>
<text x="718.1" y="2394.5" font-size="63.9" fill="#1c2f5e" font-weight="bold" textLength="148.2" lengthAdjust="spacingAndGlyphs" stroke="#1c2f5e" stroke-width="2.6" stroke-linejoin="round">1.201,5</text>
<polygon points="967.8,2315.9 941.0,2346.0 994.5,2346.0" fill="#4ab549"/>
<text x="918.8" y="2407.3" font-size="52" fill="#fff" font-weight="bold" textLength="85.4" lengthAdjust="spacingAndGlyphs">23,1</text>
<text x="1008.1" y="2408.1" font-size="32" fill="#fff" textLength="25.8" lengthAdjust="spacingAndGlyphs" stroke="#fff" stroke-width="0.8" stroke-linejoin="round">%</text>
<rect x="1227.9" y="2299" width="260.1" height="131.5" rx="43" fill="#f7941e"/>
<ellipse cx="1227.9" cy="2333" rx="129" ry="120.5" fill="#e3f2fa"/>
<text x="1138.4" y="2300.0" font-size="50" fill="#0a0a0a" font-weight="bold" textLength="185.3" lengthAdjust="spacingAndGlyphs">Châu Mỹ</text>
<rect x="1132.8" y="2323.5" width="181.9" height="4.6" fill="#1f4a33"/>
<text x="1151.2" y="2409.6" font-size="63.9" fill="#1c2f5e" font-weight="bold" textLength="123.7" lengthAdjust="spacingAndGlyphs" stroke="#1c2f5e" stroke-width="2.6" stroke-linejoin="round">496,9</text>
<polygon points="1408.7,2315.9 1382.4,2346.0 1435.4,2346.0" fill="#4ab549"/>
<text x="1369.2" y="2410.3" font-size="52" fill="#fff" font-weight="bold" textLength="66.6" lengthAdjust="spacingAndGlyphs">8,0</text>
<text x="1436.2" y="2411.1" font-size="32" fill="#fff" textLength="22.0" lengthAdjust="spacingAndGlyphs" stroke="#fff" stroke-width="0.8" stroke-linejoin="round">%</text>
<rect x="1641.6" y="2300" width="260.8" height="131.4" rx="43" fill="#f7941e"/>
<ellipse cx="1641.6" cy="2333" rx="129" ry="120.5" fill="#e3f2fa"/>
<text x="1550.6" y="2300.0" font-size="50" fill="#0a0a0a" font-weight="bold" textLength="180.7" lengthAdjust="spacingAndGlyphs">Châu Úc</text>
<rect x="1552.4" y="2323.0" width="181.0" height="4.6" fill="#1f4a33"/>
<text x="1565.4" y="2410.5" font-size="63.9" fill="#1c2f5e" font-weight="bold" textLength="123.2" lengthAdjust="spacingAndGlyphs" stroke="#1c2f5e" stroke-width="2.6" stroke-linejoin="round">265,0</text>
<polygon points="1814.9,2320.2 1788.2,2350.8 1842.0,2350.8" fill="#4ab549"/>
<text x="1763.8" y="2407.3" font-size="52" fill="#fff" font-weight="bold" textLength="87.4" lengthAdjust="spacingAndGlyphs">13,7</text>
<text x="1852.2" y="2408.1" font-size="32" fill="#fff" textLength="24.9" lengthAdjust="spacingAndGlyphs" stroke="#fff" stroke-width="0.8" stroke-linejoin="round">%</text>
<rect x="2053.6" y="2300.2" width="276.8" height="132.1" rx="43" fill="#f7941e"/>
<ellipse cx="2053.6" cy="2333" rx="129" ry="120.5" fill="#e3f2fa"/>
<text x="1955.8" y="2296.5" font-size="50" fill="#0a0a0a" font-weight="bold" textLength="193.4" lengthAdjust="spacingAndGlyphs">Châu Phi</text>
<rect x="1959.3" y="2321.7" width="181.5" height="4.6" fill="#1f4a33"/>
<text x="2009.6" y="2393.2" font-size="63.9" fill="#1c2f5e" font-weight="bold" textLength="84.6" lengthAdjust="spacingAndGlyphs" stroke="#1c2f5e" stroke-width="2.6" stroke-linejoin="round">21,6</text>
<polygon points="2235.0,2312.5 2208.5,2343.0 2262.4,2343.0" fill="#4ab549"/>
<text x="2189.0" y="2400.0" font-size="52" fill="#fff" font-weight="bold" textLength="108.5" lengthAdjust="spacingAndGlyphs">0,1%</text>
<rect x="291.4" y="2495.7" width="1988.6" height="128.6" rx="47" fill="url(#gb)"/>
<text y="2585.8" font-size="73.5" fill="#1b2a41" font-weight="bold" stroke="#1b2a41" stroke-width="0.8" stroke-linejoin="round"><tspan x="682.7" textLength="92.5" lengthAdjust="spacingAndGlyphs">TAI</tspan> <tspan x="792.2" textLength="130.2" lengthAdjust="spacingAndGlyphs">NẠN</tspan> <tspan x="940.8" textLength="154.1" lengthAdjust="spacingAndGlyphs">GIAO</tspan> <tspan x="1112.5" textLength="219.1" lengthAdjust="spacingAndGlyphs">THÔNG</tspan> <tspan x="1348.2" textLength="28.8" lengthAdjust="spacingAndGlyphs" font-size="65">5</tspan> <tspan x="1390.7" textLength="185.3" lengthAdjust="spacingAndGlyphs" font-size="65">THÁNG</tspan> <tspan x="1588.4" textLength="113.0" lengthAdjust="spacingAndGlyphs" font-size="65">ĐẦU</tspan> <tspan x="1714.7" textLength="120.0" lengthAdjust="spacingAndGlyphs" font-size="65">NĂM</tspan> <tspan x="1847.6" textLength="114.5" lengthAdjust="spacingAndGlyphs" font-size="65">2025</tspan></text>
<path d="M929.6,2731.7 L933,3278.5 M1651.7,2726.8 L1655.7,3272.6" stroke="#1b6675" stroke-width="3.2" fill="none"/>
<text x="394.9" y="2755.9" font-size="69" fill="#0a0a0a" font-weight="bold" textLength="336.3" lengthAdjust="spacingAndGlyphs" stroke="#0a0a0a" stroke-width="0.8" stroke-linejoin="round">Số vụ tai nạn</text>
<text x="409.0" y="2998.0" font-size="150.7" fill="#263b59" font-weight="bold" textLength="292.9" lengthAdjust="spacingAndGlyphs" stroke="#263b59" stroke-width="2.4" stroke-linejoin="miter">7.589</text>
<rect x="388.7" y="3038.1" width="357.1" height="4" fill="#111"/>
<text x="346.6" y="3130.9" font-size="70" fill="#0a0a0a" font-weight="bold" textLength="452.1" lengthAdjust="spacingAndGlyphs" stroke="#0a0a0a" stroke-width="0.8" stroke-linejoin="round">Bình quân 1 ngày</text>
<text x="518.6" y="3277.6" font-size="121.0" fill="#263b59" font-weight="bold" textLength="106.4" lengthAdjust="spacingAndGlyphs" stroke="#263b59" stroke-width="2" stroke-linejoin="miter">50</text>
<text x="528.5" y="3346.6" font-size="67" fill="#0a0a0a" textLength="68.1" lengthAdjust="spacingAndGlyphs" stroke="#0a0a0a" stroke-width="0.6" stroke-linejoin="round">Vụ</text>
<text x="1081.1" y="2759.8" font-size="69" fill="#0a0a0a" font-weight="bold" textLength="371.1" lengthAdjust="spacingAndGlyphs" stroke="#0a0a0a" stroke-width="0.8" stroke-linejoin="round">Số người chết</text>
<text x="1134.9" y="2998.0" font-size="150.7" fill="#263b59" font-weight="bold" textLength="292.8" lengthAdjust="spacingAndGlyphs" stroke="#263b59" stroke-width="2.4" stroke-linejoin="miter">4.212</text>
<rect x="1111.8" y="3026.8" width="357.2" height="4" fill="#111"/>
<text x="1039.0" y="3128.9" font-size="70" fill="#0a0a0a" font-weight="bold" textLength="452.2" lengthAdjust="spacingAndGlyphs" stroke="#0a0a0a" stroke-width="0.8" stroke-linejoin="round">Bình quân 1 ngày</text>
<text x="1224.4" y="3281.5" font-size="120.7" fill="#263b59" font-weight="bold" textLength="108.3" lengthAdjust="spacingAndGlyphs" stroke="#263b59" stroke-width="2" stroke-linejoin="miter">28</text>
<text x="1200.1" y="3346.6" font-size="65.5" fill="#0a0a0a" textLength="146.7" lengthAdjust="spacingAndGlyphs" stroke="#0a0a0a" stroke-width="0.6" stroke-linejoin="round">người</text>
<text x="1732.4" y="2755.9" font-size="69" fill="#0a0a0a" font-weight="bold" textLength="521.8" lengthAdjust="spacingAndGlyphs" stroke="#0a0a0a" stroke-width="0.8" stroke-linejoin="round">Số người bị thương</text>
<text x="1830.8" y="2994.1" font-size="152.2" fill="#263b59" font-weight="bold" textLength="290.4" lengthAdjust="spacingAndGlyphs" stroke="#263b59" stroke-width="2.4" stroke-linejoin="miter">5.150</text>
<rect x="1800.1" y="3022.8" width="358.1" height="4" fill="#111"/>
<text x="1746.5" y="3130.9" font-size="70" fill="#0a0a0a" font-weight="bold" textLength="453.7" lengthAdjust="spacingAndGlyphs" stroke="#0a0a0a" stroke-width="0.8" stroke-linejoin="round">Bình quân 1 ngày</text>
<text x="1945.3" y="3281.0" font-size="120.3" fill="#263b59" font-weight="bold" textLength="104.3" lengthAdjust="spacingAndGlyphs" stroke="#263b59" stroke-width="2" stroke-linejoin="miter">34</text>
<text x="1917.4" y="3346.6" font-size="65.5" fill="#0a0a0a" textLength="146.6" lengthAdjust="spacingAndGlyphs" stroke="#0a0a0a" stroke-width="0.6" stroke-linejoin="round">người</text>
</svg>
</body></html>
